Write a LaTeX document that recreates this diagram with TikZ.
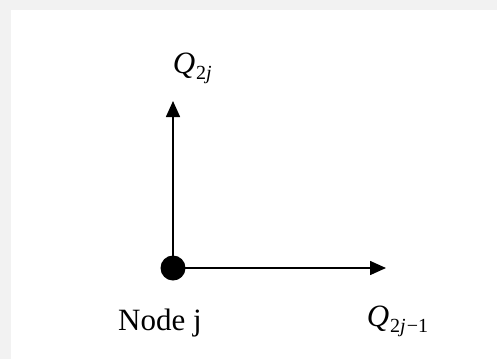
\documentclass[tikz,border=0pt]{standalone}
\usepackage{fontspec}
\setmainfont{Liberation Serif}
\usetikzlibrary{arrows.meta, positioning}

\newcommand{\qsub}[1]{\textit{Q}\kern1pt\raisebox{-6pt}{\fontsize{20}{24}\selectfont #1}}

\begin{document}
\begin{tikzpicture}[
  x=1pt, y=-1pt,
  >={Triangle[length=16pt, width=14pt]},
  line width=1.6pt,
  dotnode/.style={circle, fill=black, minimum size=25pt, inner sep=0pt},
  lbl/.style={font=\fontsize{31}{36}\selectfont, inner sep=0pt}
]

  % Hintergrund (Rand oben/links)
  \fill[gray!10] (0,0) rectangle (497,359);
  \fill[white] (11,10) rectangle (497,359);
  \useasboundingbox (0,0) rectangle (497,359);

  % Knoten und Pfeilspitzen
  \node[dotnode] (nodej) at (173,268) {};
  \coordinate (tipup) at (173,101);
  \coordinate (tipright) at (386,268);

  % Beschriftungen
  \node[lbl, anchor=base] (nodelbl) at (160,330) {Node j};
  \node[lbl, anchor=base west] (qup) at (172,73) {\qsub{2\textit{j}}};
  \node[lbl, anchor=base west] (qright) at (366,326) {\qsub{2\textit{j}\kern1pt−1}};

  % Pfeile
  \draw[->] (nodej.center) -- (tipup);
  \draw[->] (nodej.center) -- (tipright);

\end{tikzpicture}
\end{document}
